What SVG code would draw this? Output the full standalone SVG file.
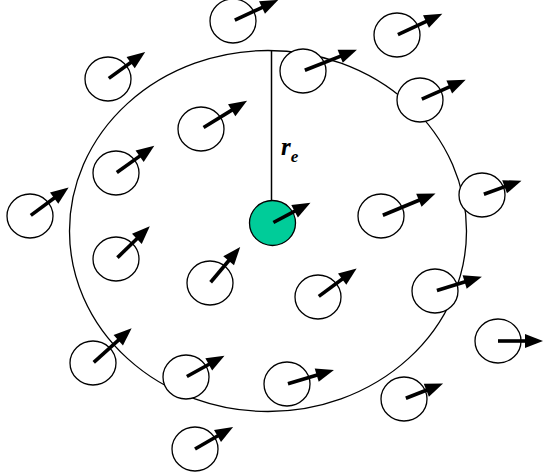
<svg xmlns="http://www.w3.org/2000/svg" width="543" height="475" viewBox="0 0 543 475">
<style>
.c{fill:#fff;stroke:#000;stroke-width:1.3}
.g{fill:#00cc99;stroke:#000;stroke-width:1.3}
.s{stroke:#000;stroke-width:3.6;fill:none}
.h{fill:#000;stroke:none}
.t{font-family:"Liberation Serif",serif;font-weight:bold;font-style:italic;fill:#000}
</style>
<defs>
<path id="hd" class="h" d="M-18,-7 L0,0 L-18,7 Z"/>
</defs>
<rect width="543" height="475" fill="#fff"/>
<ellipse cx="268" cy="231" rx="198.5" ry="180.5" fill="none" stroke="#000" stroke-width="1.3"/>
<g id="connectors">
<line x1="271.5" y1="51" x2="271.5" y2="223" stroke="#000" stroke-width="1.5"/>
</g>
<g id="n1" transform="translate(233,21)"><ellipse class="c" rx="23" ry="22"/><g transform="rotate(-25)"><line class="s" x1="2" y1="0" x2="36" y2="0"/><use href="#hd" x="50"/></g></g>
<g id="n2" transform="translate(397,35)"><ellipse class="c" rx="23" ry="22"/><g transform="rotate(-25)"><line class="s" x1="1" y1="0" x2="36" y2="0"/><use href="#hd" x="50"/></g></g>
<g id="n3" transform="translate(108,79)"><ellipse class="c" rx="23" ry="22"/><g transform="rotate(-36)"><line class="s" x1="1" y1="0" x2="32" y2="0"/><use href="#hd" x="46"/></g></g>
<g id="n4" transform="translate(303,71)"><ellipse class="c" rx="23" ry="22"/><g transform="rotate(-21.6)"><line class="s" x1="2" y1="0" x2="44" y2="0"/><use href="#hd" x="58"/></g></g>
<g id="n5" transform="translate(420,100)"><ellipse class="c" rx="23" ry="22"/><g transform="rotate(-24)"><line class="s" x1="2" y1="0" x2="36" y2="0"/><use href="#hd" x="50"/></g></g>
<g id="n6" transform="translate(201,129)"><ellipse class="c" rx="23" ry="22"/><g transform="rotate(-31.5)"><line class="s" x1="3" y1="0" x2="40" y2="0"/><use href="#hd" x="54"/></g></g>
<g id="n7" transform="translate(116,173)"><ellipse class="c" rx="23" ry="22"/><g transform="rotate(-35.4)"><line class="s" x1="1" y1="0" x2="33" y2="0"/><use href="#hd" x="47"/></g></g>
<g id="n8" transform="translate(30,216)"><ellipse class="c" rx="23" ry="22"/><g transform="rotate(-36.4)"><line class="s" x1="1" y1="0" x2="34" y2="0"/><use href="#hd" x="48"/></g></g>
<g id="n9" transform="translate(482,195)"><ellipse class="c" rx="23" ry="22"/><g transform="rotate(-20)"><line class="s" x1="2" y1="0" x2="28" y2="0"/><use href="#hd" x="42"/></g></g>
<g id="n10" transform="translate(381,216)"><ellipse class="c" rx="23" ry="22"/><g transform="rotate(-22.5)"><line class="s" x1="2" y1="0" x2="45" y2="0"/><use href="#hd" x="59"/></g></g>
<g id="center" transform="translate(272.5,223)"><ellipse class="g" rx="23" ry="22.5"/><g transform="rotate(-28)"><line class="s" x1="1" y1="0" x2="29" y2="0"/><use href="#hd" x="43"/></g></g>
<g id="n12" transform="translate(116,259)"><ellipse class="c" rx="23" ry="22"/><g transform="rotate(-44)"><line class="s" x1="2" y1="0" x2="33" y2="0"/><use href="#hd" x="47"/></g></g>
<g id="n13" transform="translate(210,283)"><ellipse class="c" rx="23" ry="22"/><g transform="rotate(-50)"><line class="s" x1="1" y1="0" x2="33" y2="0"/><use href="#hd" x="47"/></g></g>
<g id="n14" transform="translate(318,297)"><ellipse class="c" rx="23" ry="22"/><g transform="rotate(-36.4)"><line class="s" x1="1" y1="0" x2="34" y2="0"/><use href="#hd" x="48"/></g></g>
<g id="n15" transform="translate(435,291)"><ellipse class="c" rx="23" ry="22"/><g transform="rotate(-17)"><line class="s" x1="2" y1="0" x2="35" y2="0"/><use href="#hd" x="49"/></g></g>
<g id="n16" transform="translate(498,341)"><ellipse class="c" rx="23" ry="22"/><g><line class="s" x1="0" y1="0" x2="31" y2="0"/><use href="#hd" x="45"/></g></g>
<g id="n17" transform="translate(93,363)"><ellipse class="c" rx="23" ry="22"/><g transform="rotate(-42)"><line class="s" x1="1" y1="0" x2="38" y2="0"/><use href="#hd" x="52"/></g></g>
<g id="n18" transform="translate(186,377)"><ellipse class="c" rx="23" ry="22"/><g transform="rotate(-29)"><line class="s" x1="1" y1="0" x2="30" y2="0"/><use href="#hd" x="44"/></g></g>
<g id="n19" transform="translate(287,384)"><ellipse class="c" rx="23" ry="22"/><g transform="rotate(-16.6)"><line class="s" x1="1" y1="0" x2="35" y2="0"/><use href="#hd" x="49"/></g></g>
<g id="n20" transform="translate(404,399)"><ellipse class="c" rx="23" ry="22"/><g transform="rotate(-21.5)"><line class="s" x1="2" y1="0" x2="28" y2="0"/><use href="#hd" x="42"/></g></g>
<g id="n21" transform="translate(195,449)"><ellipse class="c" rx="23" ry="22"/><g transform="rotate(-30)"><line class="s" x1="0" y1="0" x2="30" y2="0"/><use href="#hd" x="44"/></g></g>
<g id="label"><text class="t" x="281" y="155" font-size="25">r<tspan font-size="17" dy="7">e</tspan></text></g>
</svg>
